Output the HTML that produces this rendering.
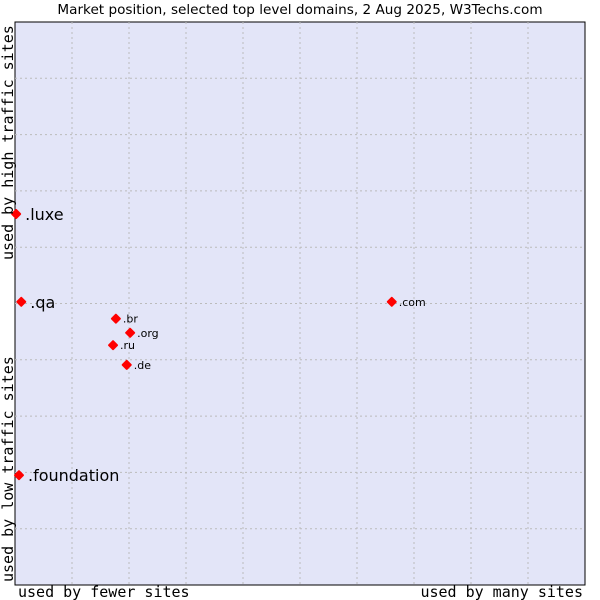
<!DOCTYPE html>
<html><head><meta charset="utf-8"><style>
body{margin:0;background:#fff}
svg{display:block;font-family:"DejaVu Sans","Liberation Sans",sans-serif}
.mono{font-family:"DejaVu Sans Mono","Liberation Mono",monospace;font-size:15px;fill:#000}
</style></head><body>
<svg width="600" height="600">
<text x="300" y="14" text-anchor="middle" font-size="13.6">Market position, selected top level domains, 2 Aug 2025, W3Techs.com</text>
<rect x="15" y="22" width="570" height="563" fill="#e3e5f8" stroke="#000" stroke-width="1"/>
<g id="grid"></g>
<g id="pts"></g>
<text class="mono" x="18" y="597">used by fewer sites</text>
<text class="mono" x="583" y="597" text-anchor="end">used by many sites</text>
<text class="mono" transform="translate(13,260) rotate(-90)">used by high traffic sites</text>
<text class="mono" transform="translate(13,582) rotate(-90)">used by low traffic sites</text>
</svg>
<script>
const labels=[".luxe",".qa",".foundation",".com",".br",".org",".ru",".de"];
const xVals=[0.2,1.1,0.7,66.1,17.7,20.2,17.2,19.6];
const yVals=[65.9,50.3,19.5,50.3,47.3,44.8,42.6,39.1];
const bigLabel=[true,true,true,false,false,false,false,false];
const X0=15,X1=585,Y0=22,Y1=585;
const sx=v=>X0+v/100*(X1-X0);
const sy=v=>Y1-v/100*(Y1-Y0);
const NS="http://www.w3.org/2000/svg";
const grid=document.getElementById('grid');
for(let i=1;i<10;i++){
  const x=X0+i*(X1-X0)/10;
  const l=document.createElementNS(NS,'line');
  
  
  l.setAttribute('x1',x);l.setAttribute('x2',x);l.setAttribute('y1',Y0);l.setAttribute('y2',Y1);
  l.setAttribute('stroke','#bbb');l.setAttribute('stroke-dasharray','2,3');
  grid.appendChild(l);
  const y=Y0+i*(Y1-Y0)/10;
  const h=document.createElementNS(NS,'line');
  
  
  h.setAttribute('x1',X0);h.setAttribute('x2',X1);h.setAttribute('y1',y);h.setAttribute('y2',y);
  h.setAttribute('stroke','#bbb');h.setAttribute('stroke-dasharray','2,3');
  grid.appendChild(h);
}
const pts=document.getElementById('pts');
labels.forEach((lab,i)=>{
  const x=sx(xVals[i]),y=sy(yVals[i]);
  const d=document.createElementNS(NS,'path');
  
  
  d.setAttribute('d',`M${x-4},${y}L${x},${y-4}L${x+4},${y}L${x},${y+4}Z`);
  d.setAttribute('fill','#f00');d.setAttribute('stroke','#f00');d.setAttribute('stroke-width','2');d.setAttribute('stroke-linejoin','round');
  pts.appendChild(d);
  const t=document.createElementNS(NS,'text');
  
  
  t.setAttribute('x',x+(bigLabel[i]?9:7));
  t.setAttribute('y',y+(bigLabel[i]?6:4));
  t.setAttribute('font-size',bigLabel[i]?'16':'11');
  t.textContent=lab;
  pts.appendChild(t);
});
</script>
</body></html>
